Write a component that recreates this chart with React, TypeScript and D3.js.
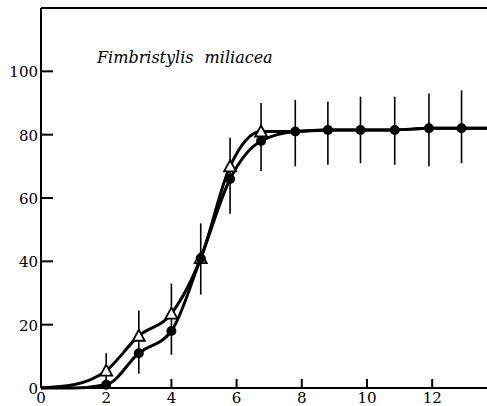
import * as d3 from 'd3';

// days after sowing (markers sit a little left of the ticks)
const days = [2, 3, 4, 4.9, 5.8, 6.75, 7.8, 8.8, 9.8, 10.85, 11.9, 12.9];
// filled circles
const circleVals = [1, 11, 18, 41, 66, 78, 81, 81.5, 81.5, 81.5, 82, 82];
// open triangles (only visible up to day 7, afterwards under the circles)
const triDays = [2, 3, 4, 4.9, 5.8, 6.75];
const triVals = [5.5, 16.5, 23.5, 41, 70, 81];
// error bars
const errLow = [2, 4.5, 10.5, 29.5, 55, 68.5, 70, 70.5, 71, 70.5, 70, 71];
const errHigh = [11, 24.5, 33, 52, 79, 90, 91, 90.5, 92, 92, 93, 94];

const xTicks = [0, 2, 4, 6, 8, 10, 12];
const yTicks = [0, 20, 40, 60, 80, 100];

export default function App() {
  const width = 487;
  const height = 406;
  const left = 41;
  const top = 8;
  const bottom = 388;

  const x = d3.scaleLinear().domain([0, 13.7]).range([left, left + 13.7 * 32.6]);
  const y = d3.scaleLinear().domain([0, 120]).range([bottom, top]);

  const line = d3
    .line<[number, number]>()
    .x((d) => x(d[0]))
    .y((d) => y(d[1]))
    .curve(d3.curveMonotoneX);

  // curves start from the origin and run on past the last point to the edge
  const circlePts: [number, number][] = [
    [0, 0],
    [1, 0],
    ...days.map((d, i) => [d, circleVals[i]] as [number, number]),
    [13.7, 82],
  ];
  const triPts: [number, number][] = [
    [0, 0],
    [1, 1],
    ...triDays.map((d, i) => [d, triVals[i]] as [number, number]),
    ...days.slice(6).map((d, i) => [d, circleVals[i + 6]] as [number, number]),
    [13.7, 82],
  ];

  return (
    <svg
      width={width}
      height={height}
      fontFamily="DejaVu Serif"
      style={{ position: 'absolute', left: 0, top: 0, background: '#fff' }}
    >
      {/* frame */}
      <line x1={left} x2={width} y1={top} y2={top} stroke="#000" strokeWidth={2} />
      <line x1={left} x2={left} y1={top} y2={bottom} stroke="#000" strokeWidth={2} />
      <line x1={left} x2={width} y1={bottom} y2={bottom} stroke="#000" strokeWidth={2} />

      {/* y ticks */}
      {yTicks.map((t) => (
        <g key={`y${t}`}>
          <line x1={left} x2={left + 12} y1={y(t)} y2={y(t)} stroke="#000" strokeWidth={2} />
          <text x={left - 3} y={y(t) + 6} textAnchor="end" fontSize={15} fill="#000">
            {t}
          </text>
        </g>
      ))}

      {/* x ticks */}
      {xTicks.map((t) => (
        <g key={`x${t}`}>
          {t > 0 && (
            <line x1={x(t)} x2={x(t)} y1={bottom} y2={bottom - 9} stroke="#000" strokeWidth={2} />
          )}
          <text x={x(t)} y={403} textAnchor="middle" fontSize={15} fill="#000">
            {t}
          </text>
        </g>
      ))}

      <text x={97} y={63} fontStyle="italic" fontSize={16} wordSpacing={6} fill="#000">
        Fimbristylis miliacea
      </text>

      {/* error bars */}
      {days.map((d, i) => (
        <line
          key={`e${i}`}
          x1={x(d)}
          x2={x(d)}
          y1={y(errLow[i])}
          y2={y(errHigh[i])}
          stroke="#000"
          strokeWidth={1.6}
        />
      ))}

      {/* curves */}
      <path d={line(triPts) ?? ''} fill="none" stroke="#000" strokeWidth={3} />
      <path d={line(circlePts) ?? ''} fill="none" stroke="#000" strokeWidth={3} />

      {/* triangles */}
      {triDays.map((d, i) => {
        const cx = x(d);
        const cy = y(triVals[i]);
        return (
          <path
            key={`t${i}`}
            d={`M${cx},${cy - 6} L${cx + 6},${cy + 5} L${cx - 6},${cy + 5} Z`}
            fill="#fff"
            stroke="#000"
            strokeWidth={1.8}
          />
        );
      })}

      {/* circles */}
      {days.map((d, i) => (
        <circle key={`c${i}`} cx={x(d)} cy={y(circleVals[i])} r={5} fill="#000" />
      ))}
    </svg>
  );
}
